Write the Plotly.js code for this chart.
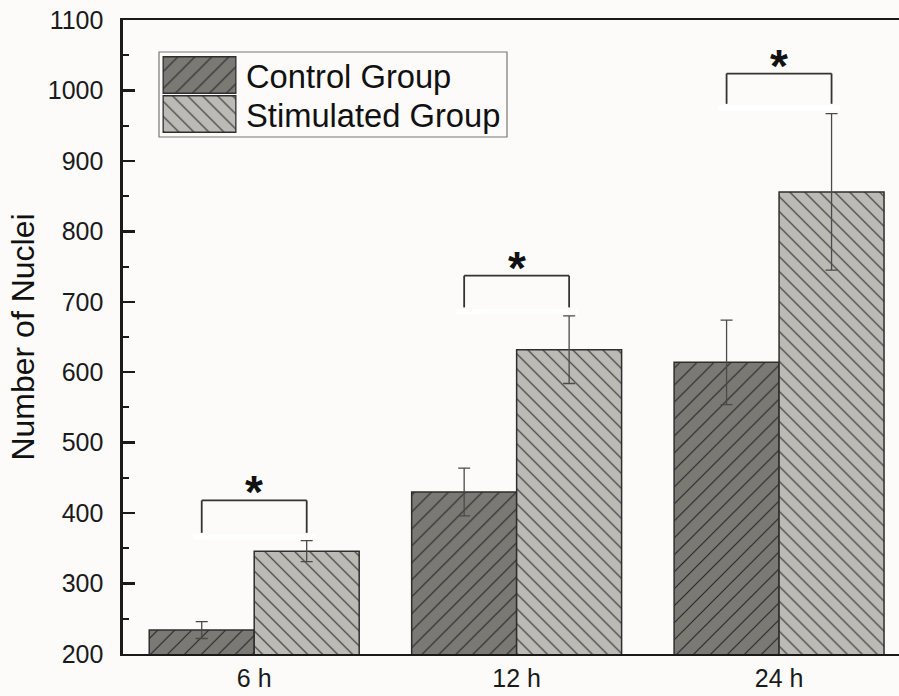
<!DOCTYPE html>
<html>
<head>
<meta charset="utf-8">
<script src="https://cdn.plot.ly/plotly-3.0.1.min.js"></script>
<style>html,body{margin:0;padding:0;background:#fcfbfa;}#chart{width:899px;height:696px;}</style>
</head>
<body>
<div id="chart"></div>
<script>
// ---- data ----
const categories = ['6 h', '12 h', '24 h'];
const seriesNames = ['Control Group', 'Stimulated Group'];
const controlMean = [234, 430, 614];
const controlErr = [12, 34, 60];
const stimMean = [346, 632, 856];
const stimErr = [15, 48, 111];
const bracketTop = [418, 737, 1024];
const bracketBottom = [372, 692, 981];
const sigLabels = ['*', '*', '*'];
const yTicks = [200, 300, 400, 500, 600, 700, 800, 900, 1000, 1100];

// ---- geometry helpers (pixel -> paper) ----
const W = 899, H = 696, ML = 123, MR = 0, MT = 20, MB = 42;
const PW = W - ML - MR, PH = H - MT - MB;
const px = x => (x - ML) / PW;
const py = y => (H - MB - y) / PH;

const FONT = 'Liberation Sans, Arial, sans-serif';
const ctrlBg = '#7b7974', stimBg = '#bcbab5', lineCol = '#2e2e2e';

const ctrlPattern = {shape: '/', bgcolor: ctrlBg, fgcolor: '#2a2a2a', size: 12, solidity: 0.1, fillmode: 'replace'};
const stimPattern = {shape: '\\', bgcolor: stimBg, fgcolor: '#2a2a2a', size: 10.6, solidity: 0.1, fillmode: 'replace'};

const traces = [
  {
    type: 'bar', name: seriesNames[0], x: categories, y: controlMean,
    marker: {color: ctrlBg, pattern: ctrlPattern, line: {color: lineCol, width: 1.5}},
    error_y: {type: 'data', array: controlErr, visible: true, color: '#4a4a4a', thickness: 1.3, width: 6},
    showlegend: false, hoverinfo: 'skip'
  },
  {
    type: 'bar', name: seriesNames[1], x: categories, y: stimMean,
    marker: {color: stimBg, pattern: stimPattern, line: {color: lineCol, width: 1.5}},
    error_y: {type: 'data', array: stimErr, visible: true, color: '#4a4a4a', thickness: 1.3, width: 6},
    showlegend: false, hoverinfo: 'skip'
  },
  // legend swatches (inset axes)
  {
    type: 'bar', orientation: 'h', x: [1], y: [seriesNames[0]], width: 0.94, base: 0,
    xaxis: 'x2', yaxis: 'y2',
    marker: {color: ctrlBg, pattern: ctrlPattern, line: {color: lineCol, width: 1.5}},
    showlegend: false, hoverinfo: 'skip'
  },
  {
    type: 'bar', orientation: 'h', x: [1], y: [seriesNames[1]], width: 0.94, base: 0,
    xaxis: 'x2', yaxis: 'y2',
    marker: {color: stimBg, pattern: stimPattern, line: {color: lineCol, width: 1.5}},
    showlegend: false, hoverinfo: 'skip'
  }
];

const half = 0.2; // bar centre offset within group (grouped, bargap 0.2)
const shapes = [];
const annotations = [];
for (let i = 0; i < categories.length; i++) {
  const x0 = i - half, x1 = i + half;
  // white strip under bracket
  shapes.push({type: 'line', xref: 'x', yref: 'y', x0: x0 - 0.032, x1: x1 + 0.032,
    y0: bracketBottom[i] - 6, y1: bracketBottom[i] - 6, line: {color: '#ffffff', width: 5}, layer: 'above'});
  shapes.push({type: 'line', xref: 'x', yref: 'y', x0: x0, x1: x0, y0: bracketBottom[i], y1: bracketTop[i], line: {color: '#333', width: 1.8}, layer: 'above'});
  shapes.push({type: 'line', xref: 'x', yref: 'y', x0: x1, x1: x1, y0: bracketBottom[i], y1: bracketTop[i], line: {color: '#333', width: 1.8}, layer: 'above'});
  shapes.push({type: 'line', xref: 'x', yref: 'y', x0: x0, x1: x1, y0: bracketTop[i], y1: bracketTop[i], line: {color: '#333', width: 1.8}, layer: 'above'});
  annotations.push({xref: 'x', yref: 'y', x: i, y: bracketTop[i], text: sigLabels[i], showarrow: false,
    yanchor: 'middle', xanchor: 'center', yshift: 8,
    font: {family: FONT, size: 46, color: '#111', weight: 'bold'}});
}
// legend box
shapes.push({type: 'rect', xref: 'paper', yref: 'paper', x0: px(159), x1: px(507), y0: py(137), y1: py(52),
  line: {color: '#777', width: 1.2}, fillcolor: 'rgba(0,0,0,0)', layer: 'above'});
// legend labels
annotations.push({xref: 'paper', yref: 'paper', x: px(244), y: py(76), text: seriesNames[0], showarrow: false,
  xanchor: 'left', yanchor: 'middle', font: {family: FONT, size: 32.7, color: '#111'}});
annotations.push({xref: 'paper', yref: 'paper', x: px(244), y: py(116), text: seriesNames[1], showarrow: false,
  xanchor: 'left', yanchor: 'middle', font: {family: FONT, size: 32.7, color: '#111'}});

const layout = {
  width: W, height: H,
  margin: {l: ML, r: MR, t: MT, b: MB},
  paper_bgcolor: '#fcfbfa', plot_bgcolor: 'rgba(0,0,0,0)',
  barmode: 'group', bargap: 0.2, bargroupgap: 0,
  showlegend: false, hovermode: false,
  font: {family: FONT, color: '#1a1a1a'},
  xaxis: {
    type: 'category', range: [-0.5, 2.457], showgrid: false, zeroline: false,
    showline: true, linecolor: '#1a1a1a', linewidth: 2.2, mirror: true,
    ticks: '', ticklabelstandoff: 1, tickfont: {family: FONT, size: 25, color: '#1a1a1a'}
  },
  yaxis: {
    range: [200, 1100], tickvals: yTicks, showgrid: false, zeroline: false,
    showline: true, linecolor: '#1a1a1a', linewidth: 2.6,
    ticks: 'inside', ticklen: 12, tickwidth: 2.4, tickcolor: '#1a1a1a',
    minor: {dtick: 50, ticks: 'inside', ticklen: 6, tickwidth: 2, tickcolor: '#1a1a1a'},
    ticklabelstandoff: 12, tickfont: {family: FONT, size: 25, color: '#1a1a1a'},
    title: {text: 'Number of Nuclei', standoff: 4, font: {family: FONT, size: 32, color: '#111'}}
  },
  xaxis2: {domain: [px(162.3), px(236.7)], anchor: 'y2', range: [-0.01, 1.01], visible: false, fixedrange: true},
  yaxis2: {domain: [py(133.5), py(55.5)], anchor: 'x2', type: 'category', autorange: 'reversed', visible: false, fixedrange: true},
  shapes: shapes,
  annotations: annotations
};

Plotly.newPlot('chart', traces, layout, {displayModeBar: false, staticPlot: true});
</script>
</body>
</html>
